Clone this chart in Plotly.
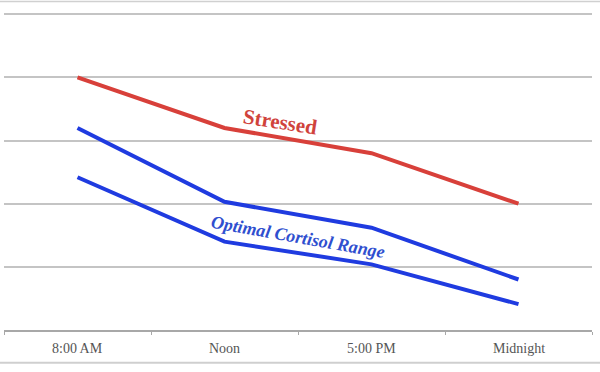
import plotly.graph_objects as go

categories = ["8:00 AM", "Noon", "5:00 PM", "Midnight"]
stressed = [40, 32, 28, 20]
optimal_upper = [32, 20.3, 16.2, 8]
optimal_lower = [24.2, 14, 10.4, 4.1]

RED = "#d8403a"
BLUE = "#1f3be0"
SERIF = "Liberation Serif, DejaVu Serif, serif"

fig = go.Figure()
fig.add_trace(go.Scatter(x=categories, y=stressed, mode="lines",
                         line=dict(color=RED, width=4), name="Stressed"))
fig.add_trace(go.Scatter(x=categories, y=optimal_upper, mode="lines",
                         line=dict(color=BLUE, width=4), name="Optimal upper"))
fig.add_trace(go.Scatter(x=categories, y=optimal_lower, mode="lines",
                         line=dict(color=BLUE, width=4), name="Optimal lower"))

fig.add_annotation(x=1.38, y=33.0, text="<b>Stressed</b>", showarrow=False,
                   textangle=9, font=dict(family=SERIF, size=21, color="#d0433c"))
fig.add_annotation(x=1.5, y=14.8, text="<b><i>Optimal Cortisol Range</i></b>", showarrow=False,
                   textangle=10, font=dict(family=SERIF, size=18, color="#2f4fcf"))

# frame lines at top and bottom of picture
fig.add_shape(type="line", xref="paper", yref="paper", x0=-0.01, x1=1.02,
              y0=1.02, y1=1.02, line=dict(color="#d0d0d0", width=1.5))
fig.add_shape(type="line", xref="paper", yref="paper", x0=-0.01, x1=1.02,
              y0=-0.102, y1=-0.102, line=dict(color="#cfcfcf", width=2))

fig.update_layout(
    width=600, height=372,
    margin=dict(l=4, r=8, t=8, b=42),
    paper_bgcolor="white", plot_bgcolor="white",
    showlegend=False,
    xaxis=dict(range=[-0.5, 3.5], showgrid=False, showline=True,
               linecolor="#a8a8a8", linewidth=1.5,
               ticks="outside", ticklen=3, tickcolor="#a8a8a8",
               tickmode="array", tickvals=[-0.5, 0.5, 1.5, 2.5, 3.5], ticktext=["", "", "", "", ""],
               zeroline=False),
    yaxis=dict(range=[0, 51], tickvals=[10, 20, 30, 40, 50], showgrid=True,
               gridcolor="#c4c4c4", gridwidth=1.5,
               showticklabels=False, zeroline=False, showline=False),
)

for c in categories:
    fig.add_annotation(x=c, y=0, yref="y", yshift=-18, text=c, showarrow=False,
                       font=dict(family=SERIF, size=14, color="#555555"))

fig.write_html("out.html", config={"displayModeBar": False},
               post_script="document.body.style.margin='0';")
